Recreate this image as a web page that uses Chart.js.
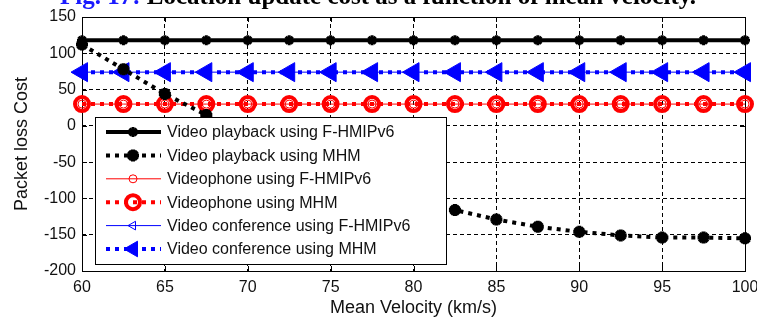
<!DOCTYPE html>
<html>
<head>
<meta charset="utf-8">
<script src="https://cdn.jsdelivr.net/npm/chart.js@4"></script>
<style>
  html, body { margin: 0; padding: 0; background: #fff; overflow: hidden; }
  #wrap { position: relative; width: 757px; height: 322px; }
  #caption {
    position: absolute; left: 60px; top: -17px; white-space: nowrap;
    font: bold 25px "Liberation Serif", "Times New Roman", serif; line-height: 25px; color: #000;
  }
  #caption span { color: #1a1aff; }
</style>
</head>
<body>
<div id="wrap">
  <canvas id="chart" width="757" height="322"></canvas>
  <div id="caption"><span>Fig. 17:</span> Location update cost as a function of mean velocity.</div>
</div>
<script>
(function() {
    'use strict';

    // Mean velocity (km/s)
    var velocity = [60, 62.5, 65, 67.5, 70, 72.5, 75, 77.5, 80, 82.5, 85, 87.5, 90, 92.5, 95, 97.5, 100];

    // Packet loss cost per scheme
    var playbackFHMIPv6 = [118, 118, 118, 118, 118, 118, 118, 118, 118, 118, 118, 118, 118, 118, 118, 118, 118];
    var playbackMHM = [112, 78, 44, 15, -10, -35, -58, -80, -100, -116, -129, -139, -146, -151, -154, -154, -155];
    var phoneFHMIPv6 = [30, 30, 30, 30, 30, 30, 30, 30, 30, 30, 30, 30, 30, 30, 30, 30, 30];
    var phoneMHM = [30, 30, 30, 30, 30, 30, 30, 30, 30, 30, 30, 30, 30, 30, 30, 30, 30];
    var confFHMIPv6 = [74, 74, 74, 74, 74, 74, 74, 74, 74, 74, 74, 74, 74, 74, 74, 74, 74];
    var confMHM = [74, 74, 74, 74, 74, 74, 74, 74, 74, 74, 74, 74, 74, 74, 74, 74, 74];

    var seriesNames = [
        'Video playback using F-HMIPv6',
        'Video playback using MHM',
        'Videophone using F-HMIPv6',
        'Videophone using MHM',
        'Video conference using F-HMIPv6',
        'Video conference using MHM'
    ];

    var xTicks = [60, 65, 70, 75, 80, 85, 90, 95, 100];
    var yTicks = [-200, -150, -100, -50, 0, 50, 100, 150];

    function points(values) {
        return values.map(function(v, i) { return { x: velocity[i], y: v }; });
    }

    var tickFont = { family: 'Liberation Sans, Arial, sans-serif', size: 16 };
    var titleFont = { family: 'Liberation Sans, Arial, sans-serif', size: 18 };

    var datasets = [
        {
            label: seriesNames[0], data: points(playbackFHMIPv6),
            borderColor: '#000', backgroundColor: '#000', borderWidth: 4,
            pointStyle: 'star', pointRadius: 5, pointBorderWidth: 3,
            pointBorderColor: '#000', order: 3
        },
        {
            label: seriesNames[1], data: points(playbackMHM),
            borderColor: '#000', backgroundColor: '#000', borderWidth: 4, borderDash: [4, 5],
            pointStyle: 'star', pointRadius: 6, pointBorderWidth: 4,
            pointBorderColor: '#000', order: 1
        },
        {
            label: seriesNames[2], data: points(phoneFHMIPv6),
            borderColor: '#ff0000', backgroundColor: 'rgba(0,0,0,0)', borderWidth: 1,
            pointStyle: 'circle', pointRadius: 4, pointBorderWidth: 1,
            pointBorderColor: '#ff0000', order: 2
        },
        {
            label: seriesNames[3], data: points(phoneMHM),
            borderColor: '#ff0000', backgroundColor: 'rgba(0,0,0,0)', borderWidth: 4, borderDash: [4, 5],
            pointStyle: 'circle', pointRadius: 7, pointBorderWidth: 4,
            pointBorderColor: '#ff0000', order: 4
        },
        {
            label: seriesNames[4], data: points(confFHMIPv6),
            borderColor: '#0000ff', backgroundColor: '#fff', borderWidth: 1,
            pointStyle: 'triangle', pointRotation: -90, pointRadius: 5, pointBorderWidth: 1,
            pointBorderColor: '#0000ff', pointBackgroundColor: 'rgba(255,255,255,0)', order: 2
        },
        {
            label: seriesNames[5], data: points(confMHM),
            borderColor: '#0000ff', backgroundColor: '#0000ff', borderWidth: 4, borderDash: [4, 5],
            pointStyle: 'triangle', pointRotation: -90, pointRadius: 11, pointBorderWidth: 1,
            pointBorderColor: '#0000ff', pointBackgroundColor: '#0000ff', order: 4
        }
    ];
    datasets.forEach(function(d) {
        d.clip = false;
        d.tension = 0;
        d.borderCapStyle = 'butt';
        if (!d.pointBackgroundColor) d.pointBackgroundColor = d.backgroundColor;
    });

    function drawMarker(ctx, d, x, y) {
        Chart.helpers.drawPoint(ctx, {
            pointStyle: d.pointStyle,
            rotation: d.pointRotation || 0,
            radius: d.pointRadius,
            borderWidth: d.pointBorderWidth
        }, x, y);
    }

    // Frame, inward ticks and boxed legend inside the plot
    var framePlugin = {
        id: 'frame',
        beforeDatasetsDraw: function(chart) {
            var ctx = chart.ctx, a = chart.chartArea;
            var xs = chart.scales.x, ys = chart.scales.y;
            ctx.save();
            ctx.strokeStyle = '#000';
            ctx.lineWidth = 1;
            ctx.setLineDash([]);
            ctx.beginPath();
            xTicks.forEach(function(t) {
                var px = Math.round(xs.getPixelForValue(t)) + 0.5;
                ctx.moveTo(px, a.bottom); ctx.lineTo(px, a.bottom - 5);
                ctx.moveTo(px, a.top); ctx.lineTo(px, a.top + 5);
            });
            yTicks.forEach(function(t) {
                var py = Math.round(ys.getPixelForValue(t)) + 0.5;
                ctx.moveTo(a.left, py); ctx.lineTo(a.left + 5, py);
                ctx.moveTo(a.right, py); ctx.lineTo(a.right - 5, py);
            });
            ctx.stroke();
            ctx.strokeRect(Math.round(a.left) + 0.5, Math.round(a.top) + 0.5,
                Math.round(a.right - a.left), Math.round(a.bottom - a.top));
            ctx.restore();
        },
        afterDatasetsDraw: function(chart) {
            var ctx = chart.ctx, a = chart.chartArea;
            var bx = a.left + 13, by = a.top + 100, bw = 351, bh = 147;
            ctx.save();
            ctx.fillStyle = '#fff';
            ctx.fillRect(bx, by, bw, bh);
            ctx.strokeStyle = '#000';
            ctx.lineWidth = 1;
            ctx.strokeRect(bx + 0.5, by + 0.5, bw, bh);
            ctx.font = '16px Liberation Sans, Arial, sans-serif';
            ctx.textBaseline = 'middle';
            datasets.forEach(function(d, i) {
                var cy = by + 15 + i * 23.4;
                ctx.strokeStyle = d.borderColor;
                ctx.lineWidth = d.borderWidth;
                ctx.setLineDash(d.borderDash || []);
                ctx.beginPath();
                ctx.moveTo(bx + 11, cy); ctx.lineTo(bx + 66, cy);
                ctx.stroke();
                ctx.setLineDash([]);
                ctx.strokeStyle = d.pointBorderColor;
                ctx.fillStyle = d.pointBackgroundColor;
                ctx.lineWidth = d.pointBorderWidth;
                var r = d.pointRadius;
                if (d.pointStyle === 'triangle' && r > 8) r = 9;
                drawMarker(ctx, Object.assign({}, d, { pointRadius: r }), bx + 38, cy);
                ctx.fillStyle = '#111';
                ctx.fillText(d.label, bx + 72, cy + 1);
            });
            ctx.restore();
        }
    };

    new Chart(document.getElementById('chart').getContext('2d'), {
        type: 'line',
        data: { datasets: datasets },
        options: {
            responsive: false,
            animation: false,
            devicePixelRatio: 1,
            layout: { padding: { top: 17, right: 12, left: 0, bottom: 0 } },
            plugins: { legend: { display: false }, tooltip: { enabled: false } },
            scales: {
                x: {
                    type: 'linear', min: 60, max: 100,
                    afterBuildTicks: function(s) { s.ticks = xTicks.map(function(v) { return { value: v }; }); },
                    afterFit: function(s) { s.height = 51; s.paddingLeft = 0; s.paddingRight = 0; },
                    grid: { color: '#000', lineWidth: 1, drawTicks: false },
                    border: { display: false, dash: [4, 3] },
                    ticks: { color: '#111', font: tickFont, padding: 7, maxRotation: 0 },
                    title: { display: true, text: 'Mean Velocity (km/s)', color: '#111', font: titleFont,
                        padding: { top: 0, bottom: 3 } }
                },
                y: {
                    min: -200, max: 150,
                    afterBuildTicks: function(s) { s.ticks = yTicks.map(function(v) { return { value: v }; }); },
                    afterFit: function(s) { s.width = 82; s.paddingTop = 0; s.paddingBottom = 0; },
                    grid: { color: '#000', lineWidth: 1, drawTicks: false },
                    border: { display: false, dash: [4, 3] },
                    ticks: { color: '#111', font: tickFont, padding: 6 },
                    title: { display: true, text: 'Packet loss Cost', color: '#111', font: titleFont,
                        padding: { top: 11, bottom: 0 } }
                }
            }
        },
        plugins: [framePlugin]
    });
})();
</script>
</body>
</html>
